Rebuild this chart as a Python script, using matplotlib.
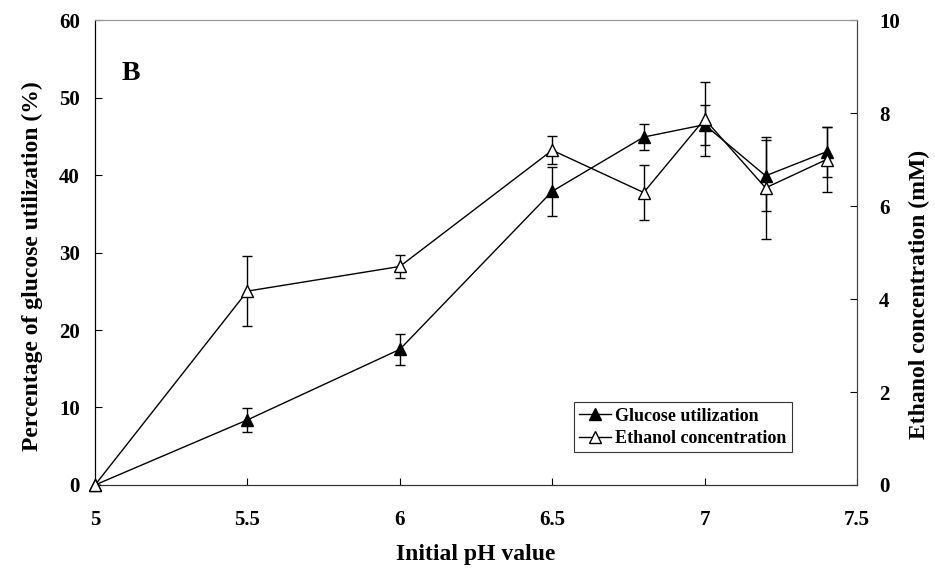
import matplotlib.pyplot as plt
from matplotlib.lines import Line2D

plt.rcParams['font.family'] = ['Liberation Serif', 'DejaVu Serif']
plt.rcParams['font.weight'] = 'bold'

ph = [5, 5.5, 6, 6.5, 6.8, 7, 7.2, 7.4]
glucose = [0, 8.4, 17.5, 37.9, 44.9, 46.5, 39.9, 43.0]
glucose_err = [0, 1.5, 2.0, 3.2, 1.7, 2.6, 4.6, 3.2]
ethanol = [0, 4.17, 4.7, 7.2, 6.29, 7.87, 6.39, 7.0]
ethanol_err = [0, 0.75, 0.24, 0.3, 0.6, 0.8, 1.1, 0.7]

fig = plt.figure(figsize=(9.35, 5.73), dpi=100)
ax = fig.add_axes([0.1016, 0.1536, 0.815, 0.8114])
ax2 = ax.twinx()

g = ax.errorbar(ph, glucose, yerr=glucose_err, color='black', lw=1, marker='^',
                markersize=9, mfc='black', mec='black', capsize=3.5, elinewidth=1,
                capthick=1, zorder=3)
e = ax2.errorbar(ph, ethanol, yerr=ethanol_err, color='black', lw=1, marker='^',
                 markersize=9, mfc='white', mec='black', capsize=3.5, elinewidth=1,
                 capthick=1, zorder=3)
for artist in list(g.lines[:1]) + list(e.lines[:1]):
    artist.set_clip_on(False)

ax.set_xlim(5, 7.5)
ax.set_ylim(0, 60)
ax2.set_ylim(0, 10)
ax.set_xticks([5, 5.5, 6, 6.5, 7, 7.5])
ax.set_xticklabels(['5', '5.5', '6', '6.5', '7', '7.5'])
ax.set_yticks(range(0, 61, 10))
ax2.set_yticks(range(0, 11, 2))

ax.tick_params(axis='x', direction='in', length=5, labelsize=15, pad=18)
ax.tick_params(axis='y', direction='in', length=5, labelsize=15, pad=11)
ax2.tick_params(axis='y', direction='in', length=5, labelsize=15, pad=16)

for a in (ax, ax2):
    a.spines['top'].set_color('#999999')
    a.spines['right'].set_color('#444444')
    a.spines['bottom'].set_color('#333333')
    a.spines['left'].set_color('black')

ax.set_xlabel('Initial pH value', fontsize=17, fontweight='bold', labelpad=10)
ax.set_ylabel('Percentage of glucose utilization (%)', fontsize=17,
              fontweight='bold')
ax2.set_ylabel('Ethanol concentration (mM)', fontsize=17, fontweight='bold')
ax.yaxis.set_label_coords(-0.068, 0.47)
ax2.yaxis.set_label_coords(1.068, 0.41)

ax.text(0.035, 0.87, 'B', transform=ax.transAxes, fontsize=20, fontweight='bold')

handles = [
    Line2D([], [], color='black', lw=1, marker='^', markersize=9, mfc='black', mec='black'),
    Line2D([], [], color='black', lw=1, marker='^', markersize=9, mfc='white', mec='black'),
]
leg = ax2.legend(handles, ['Glucose utilization', 'Ethanol concentration'],
                 loc='lower left', bbox_to_anchor=(0.628, 0.07), fontsize=13,
                 frameon=True, fancybox=False, edgecolor='black',
                 handlelength=1.8, handletextpad=0.2, borderpad=0.3,
                 labelspacing=0.3, borderaxespad=0)
leg.get_frame().set_linewidth(0.8)

fig.savefig('out.png', dpi=100)
